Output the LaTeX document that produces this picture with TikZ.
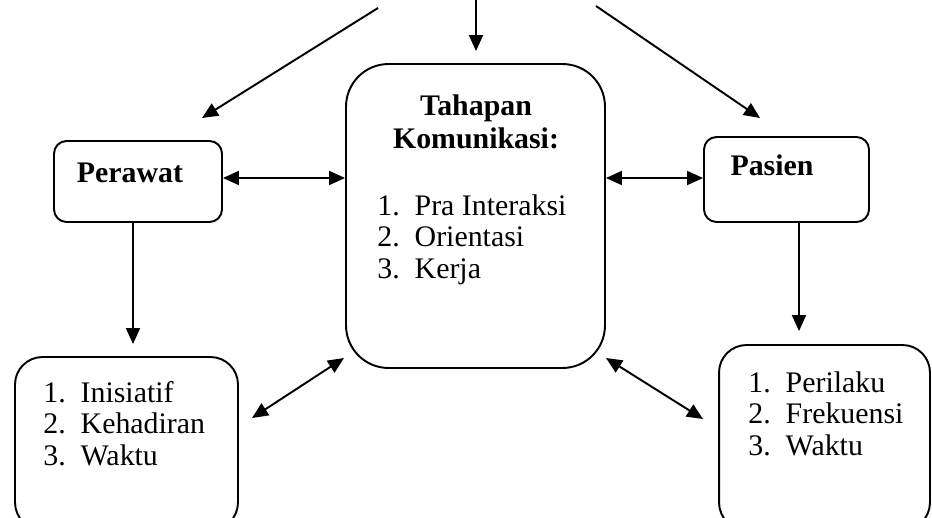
\documentclass[tikz,border=0pt]{standalone}
\usepackage{fontspec}
\setmainfont{Liberation Serif}
\usetikzlibrary{arrows.meta}
\newcommand{\ukuranteks}{\fontsize{17pt}{18.2pt}\selectfont}
\tikzset{>={Triangle[length=0.32cm,width=0.28cm]},
	kotak/.style={draw, line width=1.1pt, inner sep=0pt},
	panah/.style={->, line width=1.1pt},
	panahdua/.style={<->, line width=1.1pt},
	teks/.style={inner sep=0pt, font=\ukuranteks},
	judul/.style={inner sep=0pt, font=\ukuranteks\bfseries, anchor=base}}

\begin{document}
\begin{tikzpicture}[x=0.02cm, y=-0.02cm]
	\useasboundingbox (0,0) rectangle (932,517);
	\clip (0,0) rectangle (932,517);
	
	% kotak
	\node[kotak, rounded corners=0.25cm, minimum width=3.36cm, minimum height=1.62cm] (perawat) at (138,181.5) {};
	\node[kotak, rounded corners=0.25cm, minimum width=3.3cm, minimum height=1.7cm] (pasien) at (786.5,179.5) {};
	\node[kotak, rounded corners=0.85cm, minimum width=5.18cm, minimum height=6.08cm] (tahap) at (475.5,216) {};
	\node[kotak, rounded corners=0.55cm, minimum width=4.46cm, minimum height=3.46cm] (kiri) at (126.5,443.5) {};
	\node[kotak, rounded corners=0.55cm, minimum width=4.22cm, minimum height=3.7cm] (kanan) at (824.5,437.5) {};
	
	% isi
	\node[judul] (tperawat) at (130,182) {Perawat};
	\node[judul] (tpasien) at (772,175) {Pasien};
	\node[judul] (tjudul) at (476,115) {\begin{tabular}[t]{@{}c@{}}Tahapan\\[0.6pt]Komunikasi:\end{tabular}};
	\node[teks, anchor=base west] (ltahap) at (377,215) {\begin{tabular}[t]{@{}l@{\enskip}l@{}}1. & Pra Interaksi\\ 2. & Orientasi\\ 3. & Kerja\end{tabular}};
	\node[teks, anchor=base west] (lkiri) at (43,402) {\begin{tabular}[t]{@{}l@{\enskip}l@{}}1. & Inisiatif\\ 2. & Kehadiran\\ 3. & Waktu\end{tabular}};
	\node[teks, anchor=base west] (lkanan) at (748,392) {\begin{tabular}[t]{@{}l@{\enskip}l@{}}1. & Perilaku\\ 2. & Frekuensi\\ 3. & Waktu\end{tabular}};
	
	% panah atas
	\coordinate (atas1) at (378,8);
	\coordinate (atas2) at (476,0);
	\coordinate (atas3) at (596,6);
	\coordinate (ujung1) at (202,118);
	\coordinate (ujung3) at (760,118);
	\draw[panah] (atas1) -- (ujung1);
	\draw[panah, shorten >=0.24cm] (atas2) -- (atas2 |- tahap.north);
	\draw[panah] (atas3) -- (ujung3);
	
	\draw[panah, shorten >=0.24cm] ([xshift=-0.1cm]perawat.south) -- ([xshift=-0.1cm]perawat.south |- kiri.north);
	\draw[panah, shorten >=0.26cm] ([xshift=0.25cm]pasien.south) -- ([xshift=0.25cm]pasien.south |- kanan.north);
	
	\draw[panahdua] ([yshift=0.07cm]perawat.east) -- ([yshift=0.07cm]perawat.east -| tahap.west);
	\draw[panahdua] ([yshift=0.03cm]pasien.west) -- ([yshift=0.03cm]pasien.west -| tahap.east);
	
	% panah miring bawah
	\coordinate (m1) at (252,418);
	\coordinate (m2) at (344,358);
	\coordinate (m3) at (606,358);
	\coordinate (m4) at (703,419);
	\draw[panahdua] (m1) -- (m2);
	\draw[panahdua] (m3) -- (m4);
	
\end{tikzpicture}
\end{document}
